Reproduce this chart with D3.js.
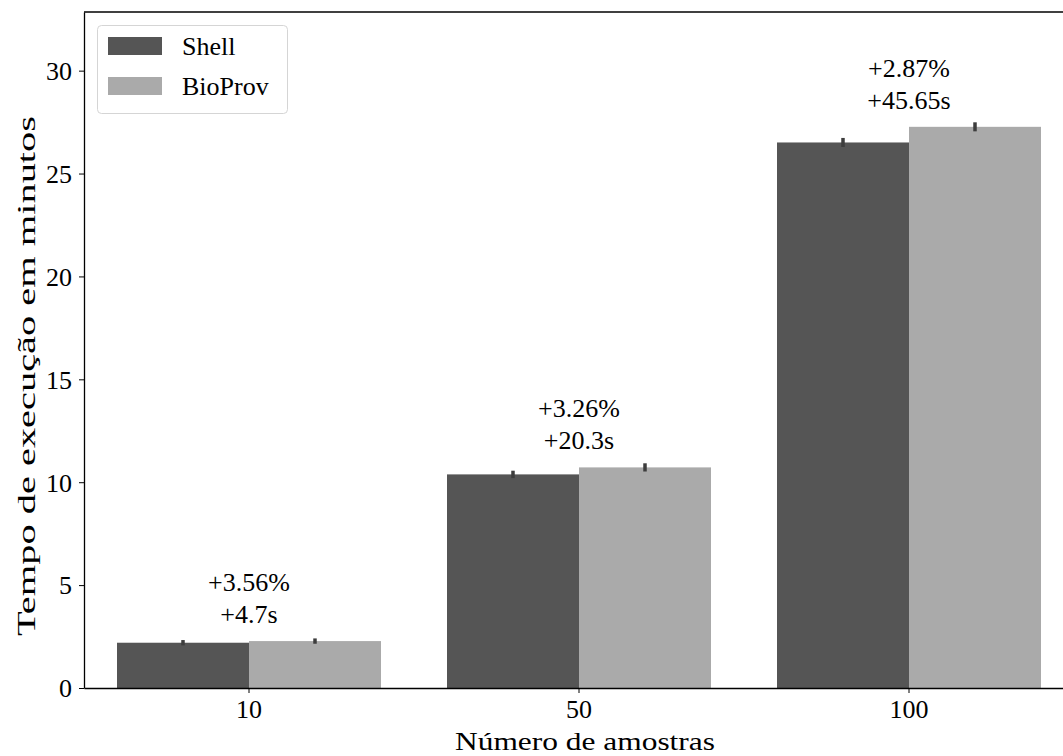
<!DOCTYPE html>
<html>
<head>
<meta charset="utf-8">
<script src="https://cdn.jsdelivr.net/npm/d3@7"></script>
<style>
  html, body { margin: 0; padding: 0; background: #fff; }
  svg { display: block; }
  text { font-family: "Liberation Serif", "DejaVu Serif", serif; fill: #000; }
</style>
</head>
<body>
<svg id="chart" width="1063" height="756"></svg>
<script>
// ---- data ----
const categories = ["10", "50", "100"];
const seriesNames = ["Shell", "BioProv"];
const shellValues = [2.20, 10.38, 26.51];
const bioprovValues = [2.28, 10.72, 27.27];
const shellErr = [0.13, 0.18, 0.22];
const bioprovErr = [0.13, 0.2, 0.22];
const pctLabels = ["+3.56%", "+3.26%", "+2.87%"];
const secLabels = ["+4.7s", "+20.3s", "+45.65s"];
const yTicks = [0, 5, 10, 15, 20, 25, 30];
const colors = ["#555555", "#aaaaaa"];

const rows = categories.map((c, i) => ({
  cat: c,
  vals: [
    { s: seriesNames[0], v: shellValues[i], e: shellErr[i] },
    { s: seriesNames[1], v: bioprovValues[i], e: bioprovErr[i] }
  ],
  pct: pctLabels[i],
  sec: secLabels[i]
}));

const svg = d3.select("#chart");
const mLeft = 84, mRight = 1074, mTop = 12, mBottom = 688;

const x = d3.scaleBand().domain(categories).range([mLeft, mRight]).padding(0);
const xs = d3.scaleBand().domain(seriesNames)
  .range([x.bandwidth() * 0.1, x.bandwidth() * 0.9]).padding(0);
const y = d3.scaleLinear().domain([0, 32.85]).range([mBottom, mTop]);
const color = d3.scaleOrdinal().domain(seriesNames).range(colors);

// bars
const g = svg.append("g");
const groups = g.selectAll("g.cat").data(rows).join("g")
  .attr("class", "cat")
  .attr("transform", d => `translate(${x(d.cat)},0)`);
groups.selectAll("rect").data(d => d.vals).join("rect")
  .attr("x", d => xs(d.s))
  .attr("width", xs.bandwidth())
  .attr("y", d => y(d.v))
  .attr("height", d => y(0) - y(d.v))
  .attr("fill", d => color(d.s));
// error bars
groups.selectAll("line.err").data(d => d.vals).join("line")
  .attr("class", "err")
  .attr("x1", d => xs(d.s) + xs.bandwidth() / 2)
  .attr("x2", d => xs(d.s) + xs.bandwidth() / 2)
  .attr("y1", d => y(d.v - d.e))
  .attr("y2", d => y(d.v + d.e))
  .attr("stroke", "#3d3d3d")
  .attr("stroke-width", 3.5);

// annotations
groups.append("text")
  .attr("x", x.bandwidth() / 2)
  .attr("y", d => y(d3.max(d.vals, v => v.v)) - 50)
  .attr("text-anchor", "middle")
  .attr("font-size", 26)
  .text(d => d.pct);
groups.append("text")
  .attr("x", x.bandwidth() / 2)
  .attr("y", d => y(d3.max(d.vals, v => v.v)) - 18)
  .attr("text-anchor", "middle")
  .attr("font-size", 26)
  .text(d => d.sec);

// axes
const xAxis = svg.append("g")
  .attr("transform", `translate(0,${mBottom})`)
  .call(d3.axisBottom(x).tickSize(5).tickPadding(6).tickSizeOuter(0));
const yAxis = svg.append("g")
  .attr("transform", `translate(${mLeft},0)`)
  .call(d3.axisLeft(y).tickValues(yTicks).tickSize(5).tickPadding(7).tickSizeOuter(0));
[xAxis, yAxis].forEach(a => {
  a.select(".domain").attr("stroke", "#000").attr("stroke-width", 1.3);
  a.selectAll(".tick line").attr("stroke", "#000").attr("stroke-width", 1);
  a.selectAll(".tick text").attr("font-size", 26)
    .attr("font-family", "Liberation Serif, serif").attr("fill", "#000");
});
xAxis.selectAll(".tick text").attr("dy", "0.72em");
yAxis.selectAll(".tick text").attr("dy", "0.34em");

// top spine
svg.append("line")
  .attr("x1", mLeft).attr("x2", mRight)
  .attr("y1", mTop).attr("y2", mTop)
  .attr("stroke", "#000").attr("stroke-width", 1.3);

// axis labels
svg.append("text")
  .attr("x", (mLeft + mRight) / 2 + 6).attr("y", 750)
  .attr("text-anchor", "middle").attr("font-size", 26)
  .attr("textLength", 260).attr("lengthAdjust", "spacingAndGlyphs")
  .text("Número de amostras");
svg.append("text")
  .attr("transform", "translate(35,376) rotate(-90)")
  .attr("text-anchor", "middle").attr("font-size", 26)
  .attr("textLength", 520).attr("lengthAdjust", "spacingAndGlyphs")
  .text("Tempo de execução em minutos");

// legend
const lg = svg.append("g");
lg.append("rect")
  .attr("x", 97.5).attr("y", 25.5).attr("width", 190).attr("height", 88)
  .attr("rx", 4).attr("fill", "#fff").attr("fill-opacity", 0.8)
  .attr("stroke", "#d5d5d5").attr("stroke-width", 1);
seriesNames.forEach((s, i) => {
  lg.append("rect")
    .attr("x", 108).attr("y", 37 + i * 40)
    .attr("width", 54).attr("height", 18)
    .attr("fill", color(s));
  lg.append("text")
    .attr("x", 182).attr("y", 46 + i * 40)
    .attr("dy", "0.34em").attr("font-size", 26)
    .text(s);
});
</script>
</body>
</html>
